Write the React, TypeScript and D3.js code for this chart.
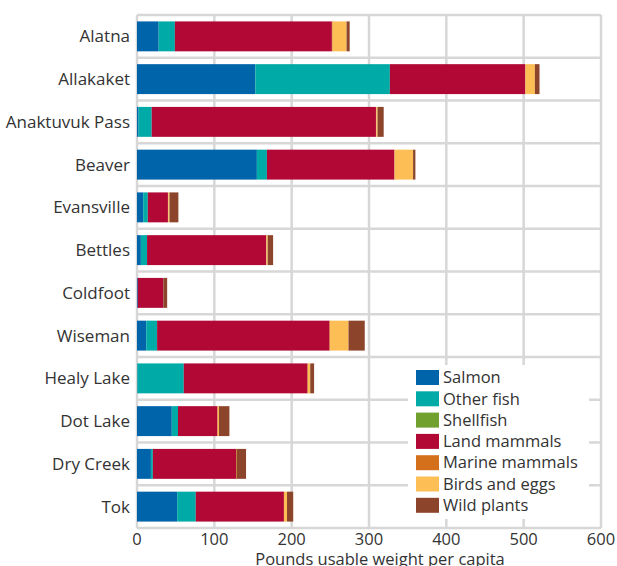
import React from "react";
import * as d3 from "d3";

const categories = ["Alatna","Allakaket","Anaktuvuk Pass","Beaver","Evansville","Bettles","Coldfoot","Wiseman","Healy Lake","Dot Lake","Dry Creek","Tok"];
const seriesNames = ["Salmon","Other fish","Shellfish","Land mammals","Marine mammals","Birds and eggs","Wild plants"];
const salmon =        [28, 153, 2, 155, 8, 5, 1, 12, 0.5, 45, 18, 52];
const otherFish =     [21, 174, 17, 13, 6, 8, 0, 14, 60, 8, 2.5, 24];
const shellfish =     [0, 0, 0, 0, 0, 0, 0, 0, 0, 0, 0, 0];
const landMammals =   [203, 175, 290, 165, 26, 154, 33, 223, 160, 51, 107.5, 114];
const marineMammals = [1, 0.5, 0.5, 0, 0.5, 0.5, 0, 0.5, 0.5, 0.5, 1, 0];
const birdsEggs =     [18, 12, 1.5, 24, 1.5, 1.5, 0, 24, 3, 1.5, 0, 4];
const wildPlants =    [4, 6, 8, 3, 11.5, 7, 5, 21, 5, 13.5, 12, 8];
const colors = ["#0064aa","#00aaa7","#72a02f","#b10835","#d4701c","#fdbe55","#8c452b"];
const xTicks = [0, 100, 200, 300, 400, 500, 600];

const W = 617, H = 566;
const L = 137, R = 601, T = 15, B = 528;
const FONT = "'Open Sans', sans-serif";

export default function App() {
  const series = [salmon, otherFish, shellfish, landMammals, marineMammals, birdsEggs, wildPlants];
  const rows = categories.map((c, i) => {
    const o: any = { cat: c };
    seriesNames.forEach((s, j) => (o[s] = series[j][i]));
    return o;
  });
  const stacked = d3.stack().keys(seriesNames)(rows);
  const x = d3.scaleLinear().domain([0, 600]).range([L, R]);
  const y = d3.scaleBand().domain(categories).range([T, B]).paddingInner(0.3).paddingOuter(0.15);
  const step = y.step();
  const grid = "#d7d7d7";

  return (
    <svg width={W} height={H} style={{ position: "absolute", left: 0, top: 0, background: "#fff" }} fontFamily={FONT}>
      {xTicks.map((t) => (
        <line key={"v" + t} x1={x(t)} x2={x(t)} y1={T} y2={B} stroke={grid} strokeWidth={2.5} />
      ))}
      {d3.range(categories.length + 1).map((i) => (
        <line key={"h" + i} x1={L} x2={R} y1={T + i * step} y2={T + i * step} stroke={grid} strokeWidth={2.5} />
      ))}
      {stacked.map((s, j) => (
        <g key={s.key} fill={colors[j]}>
          {s.map((d, i) => (
            <rect key={i} x={x(d[0])} y={y(categories[i])} width={Math.max(0, x(d[1]) - x(d[0]))} height={y.bandwidth()} />
          ))}
        </g>
      ))}
      {categories.map((c) => (
        <text key={c} x={130} y={(y(c) as number) + y.bandwidth() / 2} dy="0.35em" textAnchor="end" fontSize={17} fill="#333">{c}</text>
      ))}
      {xTicks.map((t) => (
        <text key={"t" + t} x={x(t)} y={545} textAnchor="middle" fontSize={16.5} fill="#333">{t}</text>
      ))}
      <text x={380} y={565} textAnchor="middle" fontSize={16.5} fill="#333">Pounds usable weight per capita</text>
      <rect x={408} y={365} width={181} height={154} fill="#fff" />
      {seriesNames.map((s, j) => (
        <g key={s} transform={`translate(416, ${370 + j * 21.3})`}>
          <rect width={23} height={15} fill={colors[j]} />
          <text x={27} y={7.5} dy="0.35em" fontSize={16.5} fill="#333">{s}</text>
        </g>
      ))}
    </svg>
  );
}
